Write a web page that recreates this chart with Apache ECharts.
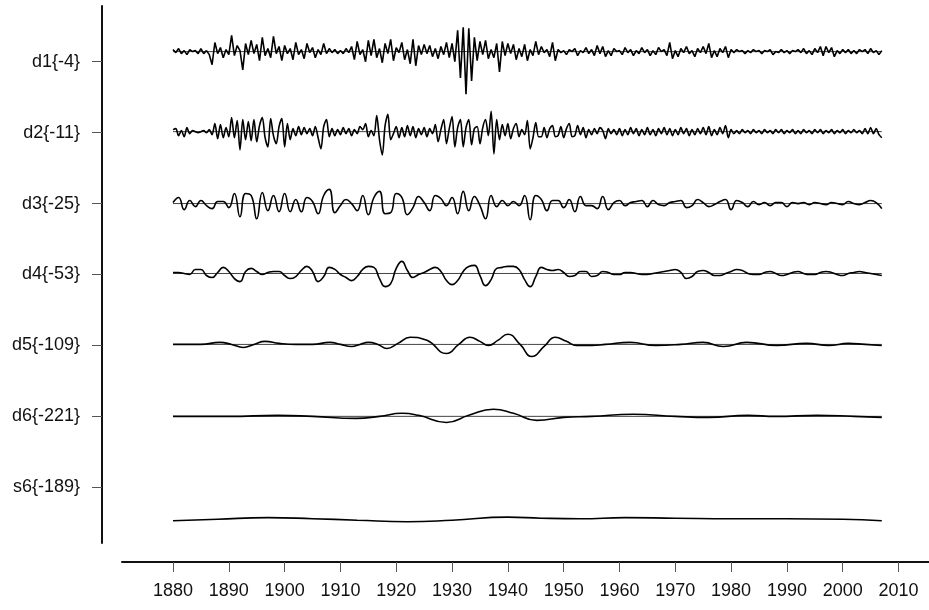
<!DOCTYPE html>
<html>
<head>
<meta charset="utf-8">
<title>MRA</title>
<script src="https://cdn.jsdelivr.net/npm/echarts@6.0.0/dist/echarts.min.js"></script>
<style>
html, body { margin: 0; padding: 0; background: #fff; }
#main { width: 929px; height: 610px; }
</style>
</head>
<body>
<div id="main"></div>
<script>
// row labels, from top to bottom
var rowLabels = ['d1{-4}', 'd2{-11}', 'd3{-25}', 'd4{-53}', 'd5{-109}', 'd6{-221}', 's6{-189}'];
var rowTicks = [420, 350, 280, 210, 140, 70, 0];
var rowBase = [430, 351, 280, 211, 141, 70, 0];
var yearTicks = [1880, 1890, 1900, 1910, 1920, 1930, 1940, 1950, 1960, 1970, 1980, 1990, 2000, 2010];

// d1, half-year steps from 1880
var d1 = [
    2, -1, 3, -2, 1, -3, 2, 0, 1, -2,
    3, -2, 1, -3, -13, 9, -2, 4, -6, 2,
    -3, 16, -4, 6, 1, -18, 8, -3, 11, -2,
    7, -9, 14, -4, 3, -6, 15, -2, 5, -9,
    6, -2, 3, -8, 9, -3, 2, -7, 8, -1,
    4, -6, 2, -3, 8, -2, 3, -1, 2, -2,
    1, -2, 3, -1, 5, -8, 10, -3, 2, -10,
    11, -4, 12, -6, 3, -11, 8, -2, 12, -9,
    4, -1, 9, -8, 2, -12, 12, -14, 6, -3,
    7, -2, 6, -5, 3, -7, 5, -3, 9, -6,
    8, -10, 21, -26, 24, -42, 23, -29, 14, -9,
    10, -3, 11, -7, 2, -6, 8, -20, 10, -4,
    8, -2, 7, -8, 3, -5, 7, -9, 2, -4,
    10, -3, 5, -1, 2, -5, 9, -9, 2, -1,
    1, -3, 2, 0, 3, -4, 1, -1, 4, -2,
    2, -4, 6, -2, 5, -5, 1, -4, 3, 0,
    1, -3, 4, -1, 2, -4, 1, -2, 4, -1,
    2, -4, 1, -3, 4, 0, 2, -4, 9, -7,
    1, -5, 3, -1, 5, -2, 1, -5, 3, -1,
    5, -2, 8, -6, 1, -5, 3, -1, 5, -6,
    2, -1, 2, 0, 1, -2, 1, -1, 2, 0,
    1, -2, 1, 0, 2, -3, 0, -1, 2, -1,
    1, -2, 1, 0, 2, -1, 3, -2, 1, -3,
    3, -1, 5, -4, 5, -1, 4, -5, 1, -2,
    2, -1, 2, -2, 1, -2, 2, 0, 2, -2,
    3, -1, 1, -3, 1
];

// d2, half-year steps from 1880
var d2 = [
    2, 3, -4, 1, -5, 4, -2, 1, 0, -1,
    0, 1, -1, 2, -3, 8, -7, 7, -6, 4,
    -5, 14, -6, 11, -18, 12, -8, 10, -9, 12,
    -10, 6, 14, -6, -15, 13, -4, -12, 5, 13,
    -15, 8, -8, 3, -4, 5, -3, 4, -2, 3,
    -4, 5, -6, -17, 5, 12, -5, 3, -4, 2,
    -3, 4, -2, 3, -4, 2, -2, 5, 2, 8,
    -5, 1, -4, 16, -8, -23, 6, 17, -8, -2,
    5, -6, 4, -5, 6, -4, 5, -6, 3, -3,
    4, -5, 3, -2, 7, -10, 2, 12, -12, 3,
    15, -15, 4, 12, -15, 4, 12, -13, 3, 5,
    -12, 4, 12, -4, 20, -22, 12, -8, 7, -4,
    8, -7, 3, 8, -5, 2, -3, 11, -17, -6,
    9, -5, -5, 4, -6, 3, 6, -5, -4, 5,
    -6, 3, 8, -5, -4, 6, -3, 4, -6, 2,
    -3, 3, -2, 4, 1, -7, 3, -2, 2, -3,
    3, -4, 2, -3, 4, -2, 3, -4, 2, -3,
    4, -3, 2, -4, 3, -2, 4, -3, 3, -4,
    2, -3, 4, -2, 3, -4, 2, -3, 3, -2,
    4, -3, 5, -4, 2, -3, 4, -2, 6, -6,
    2, -2, 1, -2, 2, -1, 1, -2, 2, -1,
    1, -2, 2, -1, 1, -2, 2, -1, 2, -2,
    1, -1, 2, -2, 1, -2, 2, -1, 1, -2,
    2, -1, 2, -2, 1, -1, 2, -2, 1, -1,
    2, -2, 1, -1, 2, -1, 1, -2, 3, -2,
    4, -2, 3, -3, -6
];

// d3, yearly from 1880
var d3 = [
    1, 6, -6, 3, -3, 3, -2, -5, 2, 2,
    -4, 10, -13, 10, 8, -15, 11, -7, 8, -8,
    10, -8, 4, -8, 6, 2, -10, 8, 14, -9,
    -2, 4, 0, -7, 8, -11, 6, 12, -10, -9,
    10, 6, -11, -4, 7, 1, -7, 8, 5, -2,
    6, -10, 12, -7, 7, -2, -15, 8, -3, 3,
    -2, 2, -2, 8, -16, 8, 4, -7, 3, 3,
    -4, 4, -8, 7, -2, -2, -5, 7, -6, 1,
    3, -2, 1, 2, 3, -3, 3, -1, -2, 1,
    2, 3, -4, -2, 4, 1, -3, -1, 2, 4,
    -6, 3, 1, -3, 2, -1, 1, -2, 1, 1,
    -3, 1, 0, 1, -1, 1, 0, -1, 1, 0,
    -1, 2, 0, -1, 1, 3, 1, -5
];

// d4, yearly from 1880
var d4 = [
    1, 1, 0, -1, 4, 4, -2, -4, 1, 6,
    2, -5, -8, 2, 5, 2, -1, 1, 2, 2,
    -2, -5, -3, 3, 7, 2, -8, -3, 6, 4,
    -1, -4, -7, -3, 4, 7, 6, -5, -13, -10,
    5, 12, 3, -4, -1, 1, 4, 6, 2, -7,
    -11, -7, 2, 7, 8, -2, -12, -6, 5, 6,
    7, 7, 4, -6, -13, -3, 6, 4, 3, 4,
    1, -3, -2, 2, 2, -3, -2, 2, 1, -1,
    -1, 1, 1, 0, -1, -1, 0, 1, 2, 3,
    4, 1, -5, -3, 2, 3, 1, -2, -2, 0,
    2, 4, 3, 0, -1, -1, 1, 2, 0, -2,
    -1, 1, 2, 0, -1, -1, 1, 2, 1, -1,
    -2, 0, 1, 2, 1, 0, -1, -2
];

// d5, d6, s6: [year, value] at turning points
var d5 = [[1880, 0], [1885, 0], [1888.4, 2], [1890.5, 0], [1892.6, -3], [1894.5, 0], [1896.5, 3],
    [1899, 1], [1902, 0], [1905, 0], [1908.1, 2], [1910, 0], [1912, -2], [1913.5, 0], [1915, 2],
    [1916.7, 0], [1918.3, -4], [1920.3, 1], [1922.5, 7], [1925.5, 4], [1929, -9], [1931.2, 0],
    [1933.2, 7], [1935, 3], [1936.5, -1], [1938.2, 4], [1940, 10], [1942.2, 0], [1944.3, -12],
    [1946.5, -2], [1948.5, 7], [1950.5, 3], [1952.3, -1], [1955, -1], [1957.5, 0], [1961.9, 2],
    [1966.5, -1], [1971, 0], [1975, 2], [1978.6, -2], [1982.8, 2], [1988.2, -1], [1993.5, 1],
    [1997.5, -1], [2001, 1], [2004, 0], [2007, -1]];
var d6 = [[1880, 0], [1890, 0], [1898.8, 1], [1905, 0], [1912.8, -2], [1917, 0], [1921, 3],
    [1924, 1], [1929, -6], [1933, 1], [1937.4, 7], [1941, 3], [1945.2, -4], [1950, -1],
    [1955, 0], [1962.5, 2], [1970, 0], [1976, -1], [1983, 1], [1988, 0], [1995.4, 1],
    [2002, 0], [2007, -1]];
var s6 = [[1880, -33], [1888, -31.5], [1897, -30], [1905, -31], [1913, -32.5], [1922, -34],
    [1930, -32.5], [1940, -29.5], [1946, -30.5], [1953, -31], [1961, -30], [1970, -30.5],
    [1980, -31], [1990, -31], [2000, -31.5], [2007, -33]];

function stepped(vals, start, step, base) {
    return vals.map(function (v, i) { return [start + i * step, base + v]; });
}
function paired(pairs, base) {
    return pairs.map(function (p) { return [p[0], base + p[1]]; });
}

var rows = [
    stepped(d1, 1880, 0.5, rowBase[0]),
    stepped(d2, 1880, 0.5, rowBase[1]),
    stepped(d3, 1880, 1, rowBase[2]),
    stepped(d4, 1880, 1, rowBase[3]),
    paired(d5, rowBase[4]),
    paired(d6, rowBase[5]),
    paired(s6, rowBase[6])
];
var smoothing = [false, 0.3, 0.5, 0.5, 0.5, 0.5, 0.5];

var series = [];
// zero lines for the detail rows
for (var r = 0; r < 6; r++) {
    var pts = rows[r];
    series.push({
        type: 'line',
        data: [[pts[0][0], rowBase[r]], [pts[pts.length - 1][0], rowBase[r]]],
        symbol: 'none',
        silent: true,
        lineStyle: { color: '#444', width: 1 },
        z: 1
    });
}
for (var k = 0; k < rows.length; k++) {
    series.push({
        name: rowLabels[k],
        type: 'line',
        data: rows[k],
        symbol: 'none',
        smooth: smoothing[k],
        lineStyle: { color: '#000', width: 1.6 },
        z: 2
    });
}

var myChart = echarts.init(document.getElementById('main'));
var option = {
    animation: false,
    backgroundColor: '#fff',
    textStyle: { fontFamily: 'Liberation Sans, Arial, sans-serif' },
    grid: { left: 122, right: 0, top: 6, bottom: 67, containLabel: false, outerBoundsMode: 'none' },
    xAxis: {
        type: 'value',
        min: 1870.86,
        max: 2015.46,
        offset: 19,
        splitLine: { show: false },
        axisLine: { show: true, onZero: false, lineStyle: { color: '#111', width: 2 } },
        axisTick: { show: true, customValues: yearTicks, length: 10, lineStyle: { color: '#555', width: 1 } },
        axisLabel: {
            customValues: yearTicks,
            margin: 20,
            fontSize: 18,
            color: '#111',
            fontFamily: 'Liberation Sans, Arial, sans-serif',
            formatter: function (v) { return String(v); }
        }
    },
    yAxis: {
        type: 'value',
        min: -55,
        max: 475,
        offset: 20,
        splitLine: { show: false },
        axisLine: { show: true, onZero: false, lineStyle: { color: '#111', width: 2 } },
        axisTick: { show: true, customValues: rowTicks, length: 10, lineStyle: { color: '#555', width: 1 } },
        axisLabel: {
            customValues: rowTicks,
            margin: 22,
            fontSize: 18,
            color: '#111',
            fontFamily: 'Liberation Sans, Arial, sans-serif',
            formatter: function (v) {
                var i = rowTicks.indexOf(v);
                return i >= 0 ? rowLabels[i] : '';
            }
        }
    },
    series: series
};
myChart.setOption(option);
</script>
</body>
</html>
